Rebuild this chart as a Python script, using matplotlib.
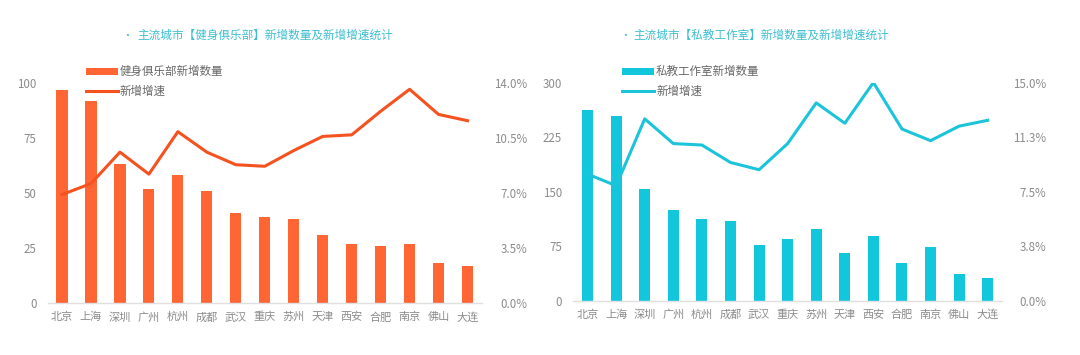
import numpy as np
import matplotlib
matplotlib.use('Agg')
import matplotlib.pyplot as plt

plt.rcParams['font.family'] = ['Noto Sans CJK SC', 'DejaVu Sans']

# 城市与数据
cities = ['北京', '上海', '深圳', '广州', '杭州', '成都', '武汉', '重庆', '苏州', '天津', '西安', '合肥', '南京', '佛山', '大连']
club_new = [97, 92, 63, 52, 58, 51, 41, 39, 38, 31, 27, 26, 27, 18, 17]
club_rate = [6.9, 7.6, 9.6, 8.2, 10.9, 9.6, 8.8, 8.7, 9.7, 10.6, 10.7, 12.2, 13.6, 12.0, 11.6]
studio_new = [262, 254, 154, 124, 112, 110, 76, 85, 98, 65, 89, 51, 73, 37, 31]
studio_rate = [8.7, 7.9, 12.5, 10.8, 10.7, 9.5, 9.0, 10.8, 13.6, 12.2, 15.0, 11.8, 11.0, 12.0, 12.4]

club_ticks = [0, 25, 50, 75, 100]
club_rate_ticks = [0, 3.5, 7.0, 10.5, 14.0]
club_rate_labels = ['0.0%', '3.5%', '7.0%', '10.5%', '14.0%']
studio_ticks = [0, 75, 150, 225, 300]
studio_rate_ticks = [0, 3.75, 7.5, 11.25, 15.0]
studio_rate_labels = ['0.0%', '3.8%', '7.5%', '11.3%', '15.0%']

ORANGE_BAR = '#FF6633'
ORANGE_LINE = '#F5521F'
CYAN_BAR = '#12C6DC'
CYAN_LINE = '#1CC4DA'
TITLE_COLOR = '#3DBFD1'
GRIS = '#8C8C8C'


def dibujar(fig, rect, valores, tasas, ticks, rate_ticks, rate_labels,
            c_bar, c_line, nombre_barra, pad_der, leg_pos):
    ax = fig.add_axes(rect)
    x = np.arange(len(cities))
    barras = ax.bar(x, valores, width=0.385, color=c_bar, zorder=2)
    ax.set_xlim(-0.5, len(cities) - 0.5)
    ax.set_ylim(ticks[0], ticks[-1])
    ax.set_yticks(ticks)
    ax.set_xticks(x)
    ax.set_xticklabels(cities)
    for s in ['top', 'right', 'left']:
        ax.spines[s].set_visible(False)
    ax.spines['bottom'].set_color('#E0E0E0')
    ax.spines['bottom'].set_linewidth(1.0)
    ax.tick_params(axis='x', length=0, pad=6.5, labelsize=8, colors=GRIS)
    ax.tick_params(axis='y', length=0, pad=8, labelsize=8.3, colors=GRIS)

    ax2 = ax.twinx()
    linea, = ax2.plot(x, tasas, color=c_line, linewidth=2.2, zorder=3)
    ax2.set_ylim(rate_ticks[0], rate_ticks[-1])
    ax2.set_yticks(rate_ticks)
    ax2.set_yticklabels(rate_labels)
    for s in ['top', 'right', 'left', 'bottom']:
        ax2.spines[s].set_visible(False)
    ax2.tick_params(axis='y', length=0, pad=pad_der, labelsize=8.3, colors=GRIS)
    for t in ax2.get_yticklabels():
        t.set_horizontalalignment('right')

    leg = ax2.legend([barras, linea], [nombre_barra, '新增增速'],
                     loc='upper left', bbox_to_anchor=leg_pos,
                     bbox_transform=fig.transFigure, frameon=False,
                     fontsize=8.3, handlelength=2.75, handleheight=0.55,
                     handletextpad=0.2, labelspacing=0.6,
                     borderpad=0, borderaxespad=0)
    for t in leg.get_texts():
        t.set_color('#666666')
    return ax, ax2


fig = plt.figure(figsize=(10.8, 3.55), dpi=100)

dibujar(fig, [0.044, 0.1465, 0.4023, 0.6197], club_new, club_rate,
        club_ticks, club_rate_ticks, club_rate_labels,
        ORANGE_BAR, ORANGE_LINE, '健身俱乐部新增数量', 32.5, (0.0796, 0.816))
dibujar(fig, [0.5308, 0.1535, 0.397, 0.614], studio_new, studio_rate,
        studio_ticks, studio_rate_ticks, studio_rate_labels,
        CYAN_BAR, CYAN_LINE, '私教工作室新增数量', 31.7, (0.576, 0.816))

# 标题
fig.text(0.113, 0.9, '•', color=TITLE_COLOR, fontsize=7, va='center')
fig.text(0.1269, 0.9, '主流城市【健身俱乐部】新增数量及新增增速统计',
         color=TITLE_COLOR, fontsize=8.4, va='center')
fig.text(0.574, 0.9, '•', color=TITLE_COLOR, fontsize=7, va='center')
fig.text(0.5868, 0.9, '主流城市【私教工作室】新增数量及新增增速统计',
         color=TITLE_COLOR, fontsize=8.4, va='center')

fig.savefig('out.png', dpi=100)
